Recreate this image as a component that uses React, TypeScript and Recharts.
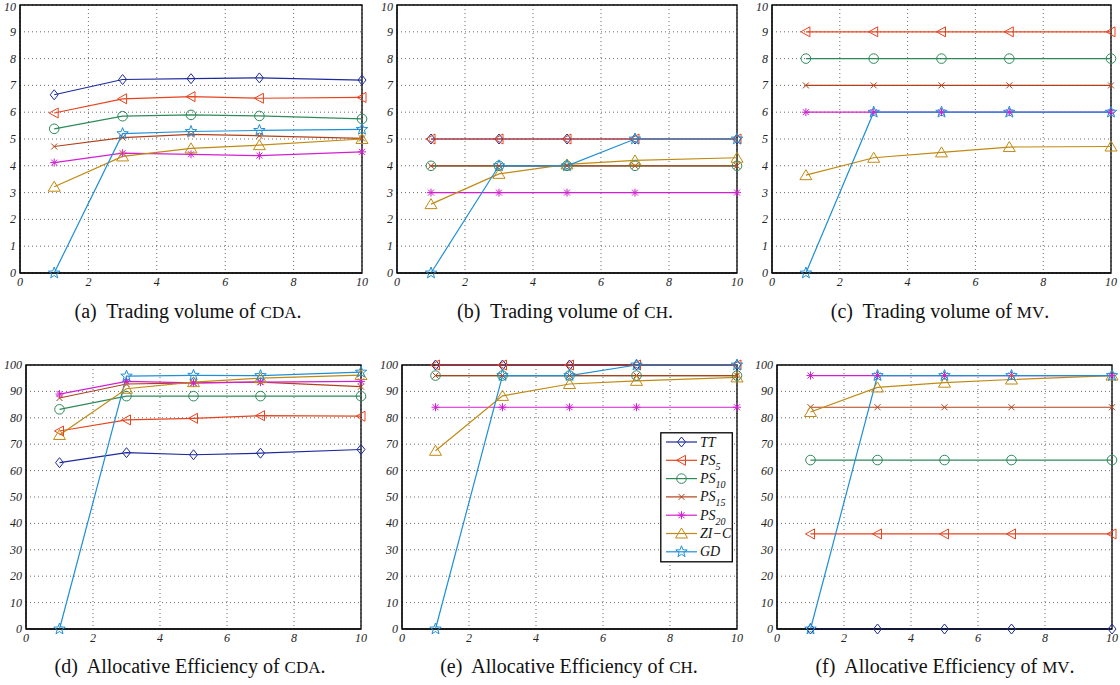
import React from 'react';
import { CartesianGrid, Line, LineChart, ReferenceArea, XAxis, YAxis } from 'recharts';

// number of agents / x positions shared by every panel
const xValues = [1, 3, 5, 7, 10];

const seriesNames = ['TT', 'PS5', 'PS10', 'PS15', 'PS20', 'ZI-C', 'GD'];
const seriesColors = ['#1c2a9c', '#e8431e', '#2e8a5a', '#b0401a', '#d21fd2', '#c08a12', '#1f8fd6'];
const seriesShapes = ['diamond', 'triLeft', 'circle', 'cross', 'asterisk', 'triUp', 'star'];

// rows follow seriesNames order
const volumeCDA = [
  [6.65, 7.22, 7.25, 7.28, 7.2],
  [5.97, 6.5, 6.58, 6.52, 6.55],
  [5.38, 5.85, 5.9, 5.86, 5.75],
  [4.72, 5.05, 5.17, 5.12, 5.02],
  [4.12, 4.47, 4.43, 4.38, 4.52],
  [3.22, 4.35, 4.65, 4.77, 5.0],
  [0, 5.2, 5.28, 5.32, 5.36],
];
const volumeCH = [
  [5, 5, 5, 5, 5],
  [5, 5, 5, 5, 5],
  [4, 4, 4, 4, 4],
  [4, 4, 4, 4, 4],
  [3, 3, 3, 3, 3],
  [2.57, 3.7, 4.05, 4.2, 4.3],
  [0, 4, 4, 5, 5],
];
const volumeMV = [
  [null, null, null, null, null],
  [9, 9, 9, 9, 9],
  [8, 8, 8, 8, 8],
  [7, 7, 7, 7, 7],
  [6, 6, 6, 6, 6],
  [3.65, 4.3, 4.5, 4.7, 4.72],
  [0, 6, 6, 6, 6],
];
const effCDA = [
  [63, 66.8, 66, 66.6, 68],
  [75, 79.2, 79.8, 80.8, 80.6],
  [83.2, 88.2, 88.2, 88.2, 88.2],
  [87.5, 92.8, 93.2, 93.5, 91.8],
  [89, 93.8, 93.2, 93.5, 93.8],
  [73.5, 91, 93.5, 95, 96.2],
  [0, 95.8, 96.1, 96, 97.3],
];
const effCH = [
  [100, 100, 100, 100, 100],
  [100, 100, 100, 100, 100],
  [96, 96, 96, 96, 96],
  [96, 96, 96, 96, 96],
  [84, 84, 84, 84, 84],
  [67.5, 88.3, 92.8, 94, 95.3],
  [0, 96, 96, 100, 100],
];
const effMV = [
  [0, 0, 0, 0, 0],
  [36, 36, 36, 36, 36],
  [64, 64, 64, 64, 64],
  [84, 84, 84, 84, 84],
  [96, 96, 96, 96, 96],
  [82.2, 91.5, 93.3, 94.5, 96],
  [0, 96, 96, 96, 96],
];

const xTicks = [0, 2, 4, 6, 8, 10];
const volumeTicks = [0, 1, 2, 3, 4, 5, 6, 7, 8, 9, 10];
const effTicks = [0, 10, 20, 30, 40, 50, 60, 70, 80, 90, 100];

const serif = 'Liberation Serif, Times New Roman, Times, DejaVu Serif, serif';

function toRows(values: (number | null)[][]) {
  return xValues.map((x, i) => {
    const row: Record<string, number | null> = { x };
    seriesNames.forEach((name, s) => {
      row[name] = values[s][i];
    });
    return row;
  });
}

function Marker({ shape, cx, cy, color }: { shape: string; cx: number; cy: number; color: string }) {
  const common = { fill: 'none', stroke: color, strokeWidth: 1 };
  switch (shape) {
    case 'diamond':
      return <polygon {...common} points={`${cx},${cy - 5} ${cx + 4},${cy} ${cx},${cy + 5} ${cx - 4},${cy}`} />;
    case 'triLeft':
      return <polygon {...common} points={`${cx - 5},${cy} ${cx + 4},${cy - 5} ${cx + 4},${cy + 5}`} />;
    case 'circle':
      return <circle {...common} cx={cx} cy={cy} r={4.8} />;
    case 'cross':
      return (
        <path {...common} d={`M${cx - 3},${cy - 3}L${cx + 3},${cy + 3}M${cx - 3},${cy + 3}L${cx + 3},${cy - 3}`} />
      );
    case 'asterisk':
      return (
        <path
          {...common}
          d={`M${cx},${cy - 4}L${cx},${cy + 4}M${cx - 4},${cy}L${cx + 4},${cy}M${cx - 3},${cy - 3}L${cx + 3},${cy + 3}M${cx - 3},${cy + 3}L${cx + 3},${cy - 3}`}
        />
      );
    case 'triUp':
      return <polygon {...common} points={`${cx},${cy - 5.5} ${cx + 6},${cy + 4.5} ${cx - 6},${cy + 4.5}`} />;
    default: {
      const pts: string[] = [];
      for (let k = 0; k < 10; k++) {
        const r = k % 2 === 0 ? 6 : 2.5;
        const a = -Math.PI / 2 + (k * Math.PI) / 5;
        pts.push(`${cx + r * Math.cos(a)},${cy + r * Math.sin(a)}`);
      }
      return <polygon {...common} points={pts.join(' ')} />;
    }
  }
}

type PanelProps = {
  values: (number | null)[][];
  yTicks: number[];
  yMax: number;
  plot: { left: number; top: number; right: number; bottom: number };
};

const tickStyle = { fontSize: 12, fontStyle: 'italic', fontFamily: serif, fill: '#222' };

function YTick({ x, y, payload, yMax, nudge }: any) {
  // the top label sits on the window edge in the top row; keep it just inside
  const dy = nudge && payload.value === yMax ? 6 : 4;
  return (
    <text x={x} y={y} dy={dy} textAnchor="end" {...tickStyle}>
      {payload.value}
    </text>
  );
}

function Panel({ values, yTicks, yMax, plot }: PanelProps) {
  const axisW = 30;
  const pad = 8;
  const width = plot.right - plot.left + axisW + pad;
  const height = plot.bottom - plot.top + pad + 20;
  const data = toRows(values);
  return (
    <div style={{ position: 'absolute', left: plot.left - axisW, top: plot.top - pad }}>
      <LineChart width={width} height={height} data={data} margin={{ top: pad, right: pad, left: 0, bottom: 0 }}>
        <CartesianGrid stroke="#444" strokeWidth={0.8} strokeDasharray="1 3" />
        <XAxis
          type="number"
          dataKey="x"
          domain={[0, 10]}
          ticks={xTicks}
          height={20}
          tick={tickStyle}
          tickLine={false}
          tickSize={2}
          tickMargin={2}
          axisLine={{ stroke: '#000' }}
        />
        <YAxis
          type="number"
          domain={[0, yMax]}
          ticks={yTicks}
          width={axisW}
          tick={<YTick yMax={yMax} nudge={plot.top < 20} />}
          tickLine={false}
          tickSize={2}
          tickMargin={2}
          axisLine={{ stroke: '#000' }}
          interval={0}
        />
        <ReferenceArea x1={0} x2={10} y1={0} y2={yMax} fill="none" stroke="#000" strokeWidth={1.3} />
        {seriesNames.map((name, s) => (
          <Line
            key={name}
            type="linear"
            dataKey={name}
            stroke={seriesColors[s]}
            strokeWidth={1.2}
            isAnimationActive={false}
            connectNulls={false}
            dot={(p: any) =>
              p.cx == null || p.cy == null || p.value == null ? (
                <g key={`${name}-${p.index}`} />
              ) : (
                <Marker key={`${name}-${p.index}`} shape={seriesShapes[s]} cx={p.cx} cy={p.cy} color={seriesColors[s]} />
              )
            }
            activeDot={false}
          />
        ))}
      </LineChart>
    </div>
  );
}

const legendLabels: [string, string][] = [
  ['TT', ''],
  ['PS', '5'],
  ['PS', '10'],
  ['PS', '15'],
  ['PS', '20'],
  ['ZI\u2212C', ''],
  ['GD', ''],
];

function LegendBox() {
  return (
    <svg style={{ position: 'absolute', left: 660, top: 432 }} width={74} height={132}>
      <rect x={0.8} y={0.8} width={71.5} height={129} fill="#fff" stroke="#000" strokeWidth={1.3} />
      {legendLabels.map(([main, sub], i) => {
        const y = 10 + i * 18.3;
        return (
          <g key={main + sub}>
            <line x1={6} x2={37} y1={y} y2={y} stroke={seriesColors[i]} strokeWidth={1.2} />
            <Marker shape={seriesShapes[i]} cx={21.5} cy={y} color={seriesColors[i]} />
            <text x={40} y={y + 4.5} fontFamily={serif} fontStyle="italic" fontSize={14} fill="#111">
              {main}
              {sub && (
                <tspan fontSize={10} dy={5}>
                  {sub}
                </tspan>
              )}
            </text>
          </g>
        );
      })}
    </svg>
  );
}

function Caption({ left, top, label, text, venue }: { left: number; top: number; label: string; text: string; venue: string }) {
  return (
    <div
      style={{
        position: 'absolute',
        left,
        top,
        width: 370,
        textAlign: 'center',
        fontFamily: serif,
        fontSize: 20,
        lineHeight: '23px',
        color: '#111',
        whiteSpace: 'pre',
      }}
    >
      {`(${label})  ${text} `}
      <span style={{ fontSize: 17 }}>{venue}</span>.
    </div>
  );
}

export default function App() {
  return (
    <div
      style={{
        position: 'absolute',
        left: 0,
        top: 0,
        width: 1120,
        height: 685,
        background: '#fff',
        overflow: 'hidden',
        fontFamily: serif,
      }}
    >
      <Panel values={volumeCDA} yTicks={volumeTicks} yMax={10} plot={{ left: 20, top: 5, right: 362, bottom: 273 }} />
      <Panel values={volumeCH} yTicks={volumeTicks} yMax={10} plot={{ left: 397, top: 5, right: 737, bottom: 273 }} />
      <Panel values={volumeMV} yTicks={volumeTicks} yMax={10} plot={{ left: 772, top: 5, right: 1111, bottom: 273 }} />
      <Panel values={effCDA} yTicks={effTicks} yMax={100} plot={{ left: 26, top: 365, right: 361, bottom: 629 }} />
      <Panel values={effCH} yTicks={effTicks} yMax={100} plot={{ left: 402, top: 365, right: 737, bottom: 629 }} />
      <Panel values={effMV} yTicks={effTicks} yMax={100} plot={{ left: 777, top: 365, right: 1112, bottom: 629 }} />
      <LegendBox />
      <Caption left={3} top={300} label="a" text="Trading volume of" venue="CDA" />
      <Caption left={380} top={300} label="b" text="Trading volume of" venue="CH" />
      <Caption left={755} top={300} label="c" text="Trading volume of" venue="MV" />
      <Caption left={5} top={655} label="d" text="Allocative Efficiency of" venue="CDA" />
      <Caption left={384} top={655} label="e" text="Allocative Efficiency of" venue="CH" />
      <Caption left={760} top={655} label="f" text="Allocative Efficiency of" venue="MV" />
    </div>
  );
}
